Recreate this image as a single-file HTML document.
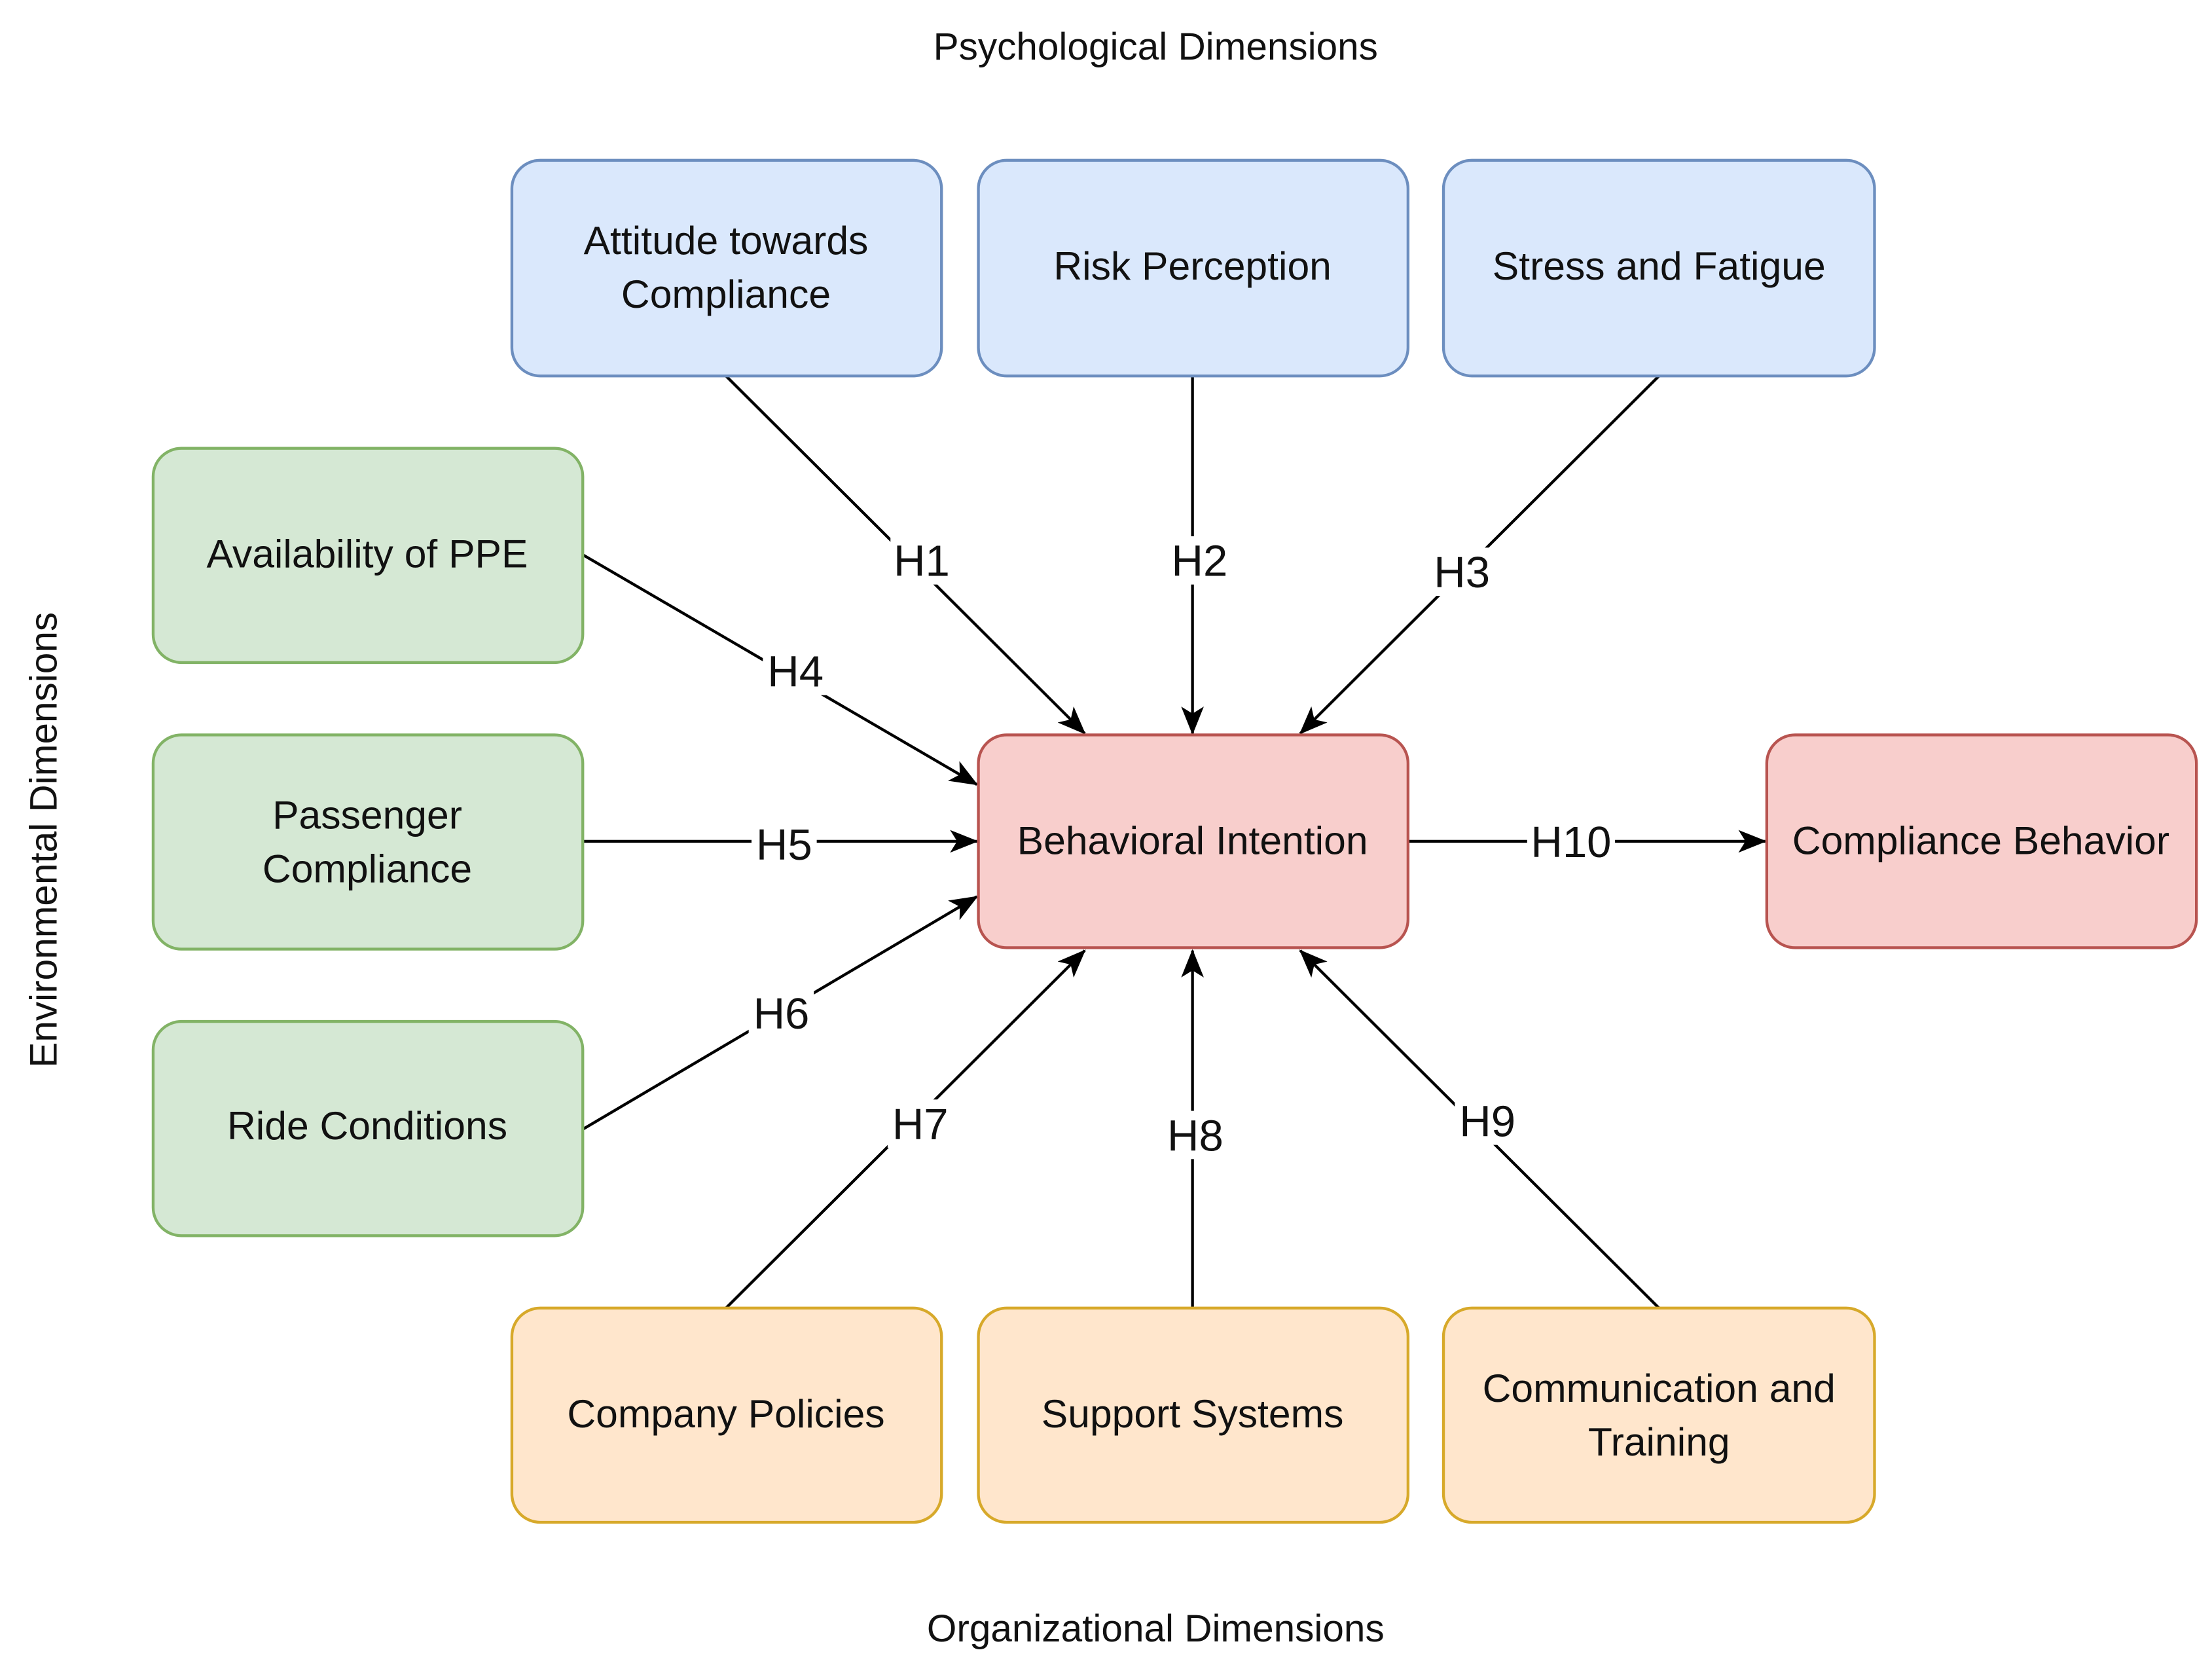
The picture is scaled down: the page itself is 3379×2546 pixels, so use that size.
<!DOCTYPE html>
<html><head><meta charset="utf-8"><style>
html,body{margin:0;padding:0;background:#fff;}
svg{display:block;}
text{font-family:"Liberation Sans",Arial,sans-serif;fill:#111;}
</style></head><body>
<svg width="3379" height="2546" viewBox="0 0 1560 1175" preserveAspectRatio="none" xmlns="http://www.w3.org/2000/svg">
<defs>
<marker id="a" viewBox="0 0 10 10" refX="9" refY="5" markerWidth="7" markerHeight="7" orient="auto" markerUnits="userSpaceOnUse">
</marker>
<marker id="ar" viewBox="0 0 20 16" refX="19" refY="8" markerWidth="20" markerHeight="16" orient="auto" markerUnits="userSpaceOnUse">
<path d="M0,0 L20,8 L0,16 L5,8 Z" fill="#000"/>
</marker>
</defs>
<rect width="1560" height="1175" fill="#fff"/>
<g font-size="27" text-anchor="middle">
<text x="815" y="42">Psychological Dimensions</text>
<text x="815" y="1157">Organizational Dimensions</text>
<text transform="translate(40,592) rotate(-90)">Environmental Dimensions</text>
</g>
<g stroke="#000" stroke-width="2" fill="none" marker-end="url(#ar)">
<line x1="512" y1="265" x2="765" y2="517"/>
<line x1="841" y1="265" x2="841" y2="517"/>
<line x1="1170" y1="265" x2="917" y2="517"/>
<line x1="411" y1="391" x2="689" y2="553"/>
<line x1="411" y1="593" x2="689" y2="593"/>
<line x1="411" y1="796" x2="689" y2="632"/>
<line x1="512" y1="922" x2="765" y2="670"/>
<line x1="841" y1="922" x2="841" y2="670"/>
<line x1="1170" y1="922" x2="917" y2="670"/>
<line x1="993" y1="593" x2="1245" y2="593"/>
</g>
<g stroke-width="2">
<rect x="361" y="113" width="303" height="152" rx="20" fill="#dae8fc" stroke="#6c8ebf"/>
<rect x="690" y="113" width="303" height="152" rx="20" fill="#dae8fc" stroke="#6c8ebf"/>
<rect x="1018" y="113" width="304" height="152" rx="20" fill="#dae8fc" stroke="#6c8ebf"/>
<rect x="108" y="316" width="303" height="151" rx="20" fill="#d5e8d4" stroke="#82b366"/>
<rect x="108" y="518" width="303" height="151" rx="20" fill="#d5e8d4" stroke="#82b366"/>
<rect x="108" y="720" width="303" height="151" rx="20" fill="#d5e8d4" stroke="#82b366"/>
<rect x="690" y="518" width="303" height="150" rx="20" fill="#f8cecc" stroke="#b85450"/>
<rect x="1246" y="518" width="303" height="150" rx="20" fill="#f8cecc" stroke="#b85450"/>
<rect x="361" y="922" width="303" height="151" rx="20" fill="#ffe6cc" stroke="#d7a92a"/>
<rect x="690" y="922" width="303" height="151" rx="20" fill="#ffe6cc" stroke="#d7a92a"/>
<rect x="1018" y="922" width="304" height="151" rx="20" fill="#ffe6cc" stroke="#d7a92a"/>
</g>
<g font-size="28" text-anchor="middle">
<text x="512" y="179">Attitude towards</text>
<text x="512" y="217">Compliance</text>
<text x="841" y="197">Risk Perception</text>
<text x="1170" y="197">Stress and Fatigue</text>
<text x="259" y="400">Availability of PPE</text>
<text x="259" y="584">Passenger</text>
<text x="259" y="622">Compliance</text>
<text x="259" y="803">Ride Conditions</text>
<text x="841" y="602">Behavioral Intention</text>
<text x="1397" y="602">Compliance Behavior</text>
<text x="512" y="1006">Company Policies</text>
<text x="841" y="1006">Support Systems</text>
<text x="1170" y="988">Communication and</text>
<text x="1170" y="1026">Training</text>
</g>
<g font-size="31" text-anchor="middle">
<g fill="#fff">
<rect x="628" y="378" width="44" height="34"/>
<rect x="822" y="378" width="46" height="34"/>
<rect x="1008" y="386" width="46" height="34"/>
<rect x="538" y="456" width="46" height="34"/>
<rect x="530" y="578" width="46" height="34"/>
<rect x="528" y="697" width="46" height="34"/>
<rect x="626" y="775" width="46" height="34"/>
<rect x="820" y="783" width="46" height="34"/>
<rect x="1026" y="773" width="46" height="34"/>
<rect x="1077" y="576" width="62" height="34"/>
</g>
<text x="650" y="406">H1</text>
<text x="846" y="406">H2</text>
<text x="1031" y="414">H3</text>
<text x="561" y="484">H4</text>
<text x="553" y="606">H5</text>
<text x="551" y="725">H6</text>
<text x="649" y="803">H7</text>
<text x="843" y="811">H8</text>
<text x="1049" y="801">H9</text>
<text x="1108" y="604">H10</text>
</g>
</svg>
</body></html>
